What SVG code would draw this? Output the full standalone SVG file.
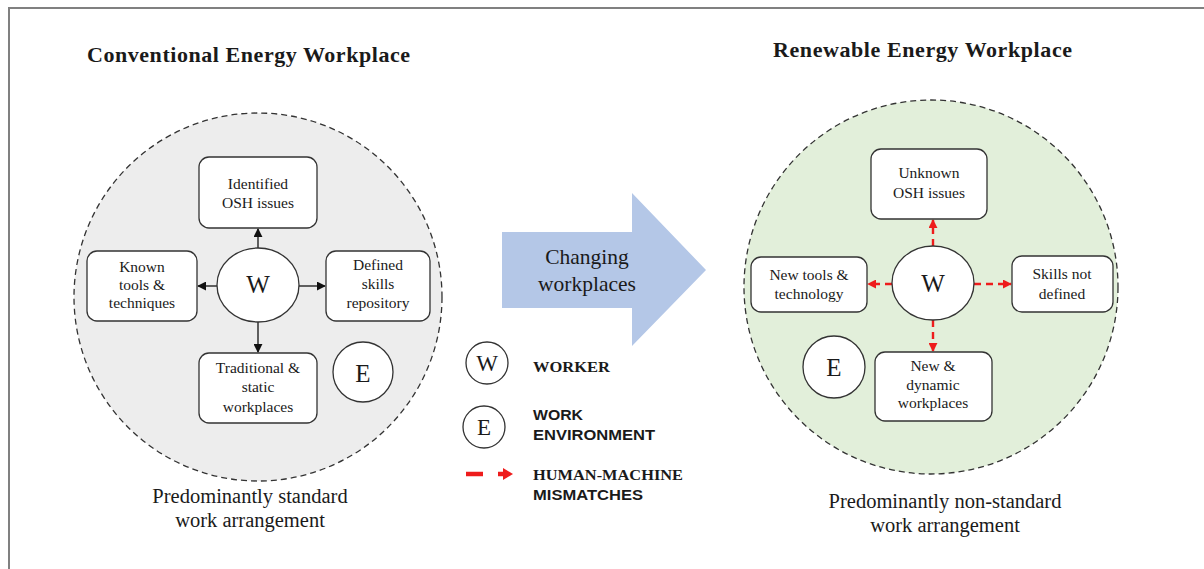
<svg xmlns="http://www.w3.org/2000/svg" width="1204" height="569" viewBox="0 0 1204 569">
<defs>
<style>
.serif{font-family:"Liberation Serif","Times New Roman",serif;fill:#1a1a1a}
.sans{font-family:"Liberation Sans",Arial,sans-serif;fill:#1a1a1a;font-weight:bold}
.box{fill:#fff;stroke:#333;stroke-width:1.3}
.node{fill:#fff;stroke:#333;stroke-width:1.3}
.lbl{font-size:15.5px;text-anchor:middle}
.big{font-size:25px;text-anchor:middle}
.title{font-size:22px;font-weight:bold;text-anchor:middle}
.cap{font-size:20.5px;text-anchor:middle}
.blk{stroke:#111;stroke-width:1.3;fill:none}
.red{stroke:#ee1c1c;stroke-width:2.4;fill:none;stroke-dasharray:7 5}
</style>
<marker id="ab" viewBox="0 0 10 10" refX="9" refY="5" markerWidth="9" markerHeight="9" markerUnits="userSpaceOnUse" orient="auto">
<path d="M0,0 L10,5 L0,10 z" fill="#111"/>
</marker>
<marker id="ar" viewBox="0 0 10 10" refX="9" refY="5" markerWidth="9" markerHeight="9" markerUnits="userSpaceOnUse" orient="auto">
<path d="M0,0 L10,5 L0,10 z" fill="#ee1c1c"/>
</marker>
</defs>
<rect width="1204" height="569" fill="#fff"/>
<path d="M9,569 V8 H1204" fill="none" stroke="#808080" stroke-width="2"/>

<!-- Titles -->
<text class="serif title" x="248.5" y="62" textLength="323" lengthAdjust="spacing">Conventional Energy Workplace</text>
<text class="serif title" x="922.5" y="57" textLength="299" lengthAdjust="spacing">Renewable Energy Workplace</text>

<g id="left-region">
<circle cx="258" cy="297" r="184" fill="#ededed" stroke="#333" stroke-width="1.3" stroke-dasharray="6 4"/>
</g>
<g id="right-region">
<circle cx="931" cy="287" r="187" fill="#e2efda" stroke="#333" stroke-width="1.3" stroke-dasharray="6 4"/>
</g>

<g id="connectors">
<line class="blk" x1="258" y1="248" x2="258" y2="229" marker-end="url(#ab)"/>
<line class="blk" x1="217" y1="286" x2="198" y2="286" marker-end="url(#ab)"/>
<line class="blk" x1="299" y1="286" x2="325" y2="286" marker-end="url(#ab)"/>
<line class="blk" x1="258" y1="322" x2="258" y2="352" marker-end="url(#ab)"/>
<line class="red" x1="933" y1="246" x2="933" y2="220" marker-end="url(#ar)"/>
<line class="red" x1="892" y1="284" x2="868" y2="284" marker-end="url(#ar)"/>
<line class="red" x1="974" y1="284" x2="1011" y2="284" marker-end="url(#ar)"/>
<line class="red" x1="933" y1="320" x2="933" y2="351" marker-end="url(#ar)"/>
</g>

<g id="l-osh">
<rect class="box" x="199" y="157" width="118" height="71" rx="10"/>
<text class="serif lbl" x="258" y="189">Identified</text>
<text class="serif lbl" x="258" y="208">OSH issues</text>
</g>
<g id="l-tools">
<rect class="box" x="87" y="251" width="110" height="70" rx="10"/>
<text class="serif lbl" x="142" y="272">Known</text>
<text class="serif lbl" x="142" y="290">tools &amp;</text>
<text class="serif lbl" x="142" y="308">techniques</text>
</g>
<g id="l-skills">
<rect class="box" x="326" y="251" width="104" height="70" rx="10"/>
<text class="serif lbl" x="378" y="270">Defined</text>
<text class="serif lbl" x="378" y="289">skills</text>
<text class="serif lbl" x="378" y="308">repository</text>
</g>
<g id="l-work">
<rect class="box" x="199" y="353" width="118" height="70" rx="10"/>
<text class="serif lbl" x="258" y="373">Traditional &amp;</text>
<text class="serif lbl" x="258" y="392">static</text>
<text class="serif lbl" x="258" y="412">workplaces</text>
</g>
<g id="l-W">
<ellipse class="node" cx="258" cy="285" rx="41" ry="37"/>
<text class="serif big" x="258" y="293">W</text>
</g>
<g id="l-E">
<circle class="node" cx="363" cy="372" r="30"/>
<text class="serif big" x="363" y="382">E</text>
</g>

<g id="r-osh">
<rect class="box" x="871" y="149" width="116" height="70" rx="10"/>
<text class="serif lbl" x="929" y="178">Unknown</text>
<text class="serif lbl" x="929" y="198">OSH issues</text>
</g>
<g id="r-tools">
<rect class="box" x="751" y="257" width="116" height="55" rx="10"/>
<text class="serif lbl" x="809" y="280">New tools &amp;</text>
<text class="serif lbl" x="809" y="299">technology</text>
</g>
<g id="r-skills">
<rect class="box" x="1012" y="256" width="101" height="56" rx="10"/>
<text class="serif lbl" x="1062" y="279">Skills  not</text>
<text class="serif lbl" x="1062" y="299">defined</text>
</g>
<g id="r-work">
<rect class="box" x="875" y="352" width="117" height="69" rx="10"/>
<text class="serif lbl" x="933" y="371">New &amp;</text>
<text class="serif lbl" x="933" y="390">dynamic</text>
<text class="serif lbl" x="933" y="408">workplaces</text>
</g>
<g id="r-W">
<ellipse class="node" cx="933" cy="283" rx="41" ry="37"/>
<text class="serif big" x="933" y="292">W</text>
</g>
<g id="r-E">
<circle class="node" cx="834" cy="367" r="31"/>
<text class="serif big" x="834" y="376">E</text>
</g>

<g id="change-arrow">
<path d="M502,232 H632 V193 L706,270 L632,346 V308 H502 Z" fill="#b4c7e7"/>
<text class="serif" x="587" y="264" font-size="21.5" text-anchor="middle">Changing</text>
<text class="serif" x="587" y="291" font-size="21.5" text-anchor="middle">workplaces</text>
</g>

<g id="legend">
<circle class="node" cx="487" cy="363" r="21"/>
<text class="serif" x="487" y="371" font-size="23" text-anchor="middle">W</text>
<text class="serif" x="533" y="372" font-size="15.5" font-weight="bold" textLength="77" lengthAdjust="spacingAndGlyphs">WORKER</text>
<circle class="node" cx="484" cy="427" r="21"/>
<text class="serif" x="484" y="435" font-size="23" text-anchor="middle">E</text>
<text class="sans" x="533" y="420" font-size="14.5" textLength="50" lengthAdjust="spacingAndGlyphs">WORK</text>
<text class="sans" x="533" y="440" font-size="14.5" textLength="122" lengthAdjust="spacingAndGlyphs">ENVIRONMENT</text>
<line x1="466" y1="474" x2="483" y2="474" stroke="#ee1c1c" stroke-width="4.5"/>
<line x1="498" y1="474" x2="505" y2="474" stroke="#ee1c1c" stroke-width="4.5"/>
<path d="M503,468 L513,474 L503,480 Z" fill="#ee1c1c"/>
<text class="serif" x="533" y="480" font-size="15.5" font-weight="bold" textLength="150" lengthAdjust="spacingAndGlyphs">HUMAN-MACHINE</text>
<text class="sans" x="533" y="500" font-size="14.5" textLength="110" lengthAdjust="spacingAndGlyphs">MISMATCHES</text>
</g>

<text class="serif cap" x="250" y="503">Predominantly standard</text>
<text class="serif cap" x="250" y="527">work arrangement</text>
<text class="serif cap" x="945" y="508">Predominantly non-standard</text>
<text class="serif cap" x="945" y="532">work arrangement</text>
</svg>
